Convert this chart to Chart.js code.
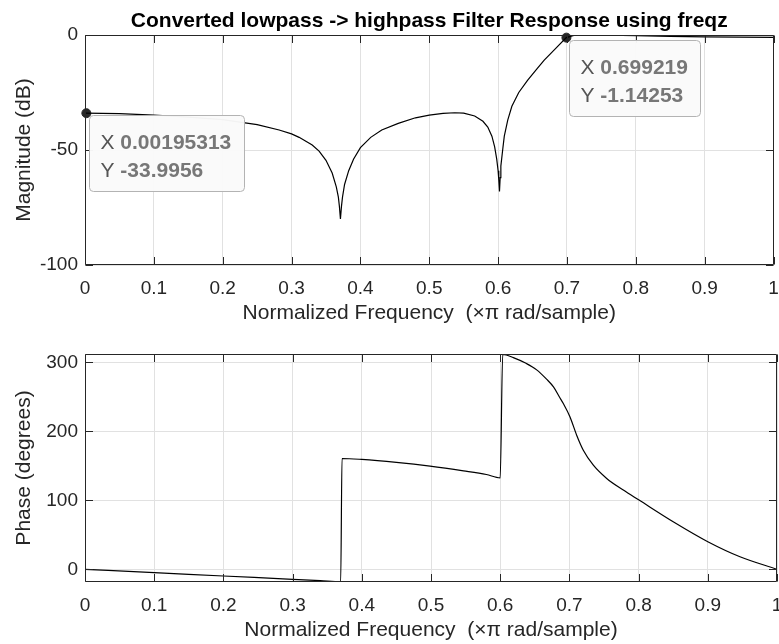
<!DOCTYPE html>
<html>
<head>
<meta charset="utf-8">
<script src="https://cdn.jsdelivr.net/npm/chart.js@4.4.0/dist/chart.umd.min.js"></script>
<style>
  html, body { margin: 0; padding: 0; background: #fff; }
  #wrap { position: relative; width: 779px; height: 644px; }
  canvas { position: absolute; left: 0; top: 0; }
</style>
</head>
<body>
<div id="wrap">
  <canvas id="magChart" width="779" height="644"></canvas>
  <canvas id="phaseChart" width="779" height="644"></canvas>
</div>
<script>
// values
const plotTitle = "Converted lowpass -> highpass Filter Response using freqz";
const xLabel = "Normalized Frequency  (\u00d7\u03c0 rad/sample)";

const freqTicks = [0, 0.1, 0.2, 0.3, 0.4, 0.5, 0.6, 0.7, 0.8, 0.9, 1];
const magTicks = [-100, -50, 0];
const phaseTicks = [0, 100, 200, 300];

const magFreq = [0, 0.05, 0.1, 0.15, 0.2, 0.25, 0.282, 0.3, 0.311, 0.33, 0.34, 0.35, 0.359, 0.365, 0.368,
  0.3695, 0.371, 0.3725, 0.374, 0.377, 0.383, 0.39, 0.4, 0.415, 0.431, 0.455, 0.48, 0.5, 0.52, 0.537, 0.55, 0.566,
  0.578, 0.585, 0.591, 0.595, 0.598, 0.6, 0.601, 0.602, 0.603, 0.604, 0.607, 0.609, 0.614, 0.62, 0.63, 0.643,
  0.657, 0.667, 0.683, 0.699, 0.71, 0.73, 0.76, 0.8, 0.85, 0.9, 0.95, 1];
const magDb = [-34.0, -34.2, -34.8, -35.7, -36.8, -39.0, -41.3, -43.0, -44.5, -47.8, -50.5, -54.5, -60, -66, -70.5,
  -74.5, -80, -74.5, -70.5, -65, -59, -54, -49, -44.5, -41.3, -38.4, -36.0, -34.8, -34.1, -33.8, -34.0, -35.2,
  -37.5, -40, -44, -48.6, -54, -59, -63, -68, -62, -57, -49, -44, -37, -31, -25, -19.6,
  -14.5, -10.9, -6.0, -1.14, -0.2, 0, -0.05, -0.3, -0.6, -0.8, -0.95, -1.0];

const phaseFreq = [0, 0.1, 0.2, 0.3, 0.34, 0.3695, 0.3714, 0.4, 0.45, 0.4986, 0.547, 0.58, 0.6, 0.6036,
  0.619, 0.638, 0.6527, 0.667, 0.677, 0.6854, 0.6912, 0.7009, 0.7105, 0.7201, 0.7346, 0.7539, 0.7779,
  0.8006, 0.85, 0.9, 0.9465, 1];
const phaseDeg = [0, -4.8, -9.7, -14.5, -16.5, -18.2, 160.6, 159.2, 154.9, 149.5, 142.7, 137.4, 132.6, 311.3,
  306.8, 298.1, 289, 275.5, 264.3, 250, 240.2, 220.8, 194.4, 172.6, 150.9, 131.7, 114.8,
  100.3, 68.9, 40, 18.2, 0];

const tipFreq = [0.00195313, 0.699219];
const tipMag = [-33.9956, -1.14253];

const FONT = '"Liberation Sans", Arial, Helvetica, sans-serif';
const INK = '#262626';

function pts(xs, ys) {
  return xs.map((v, i) => ({ x: v, y: ys[i] }));
}

// box round the axes plus inward tick marks, like MATLAB
const axesFrame = {
  id: 'axesFrame',
  afterDatasetsDraw(chart) {
    const { ctx, chartArea: a, scales: { x, y } } = chart;
    const L = Math.round(a.left) + 0.5, R = Math.round(a.right) - 0.5;
    const T = Math.round(a.top) + 0.5, B = Math.round(a.bottom) - 0.5;
    const len = 7.5;
    ctx.save();
    ctx.strokeStyle = INK;
    ctx.lineWidth = 1;
    ctx.beginPath();
    ctx.rect(L, T, R - L, B - T);
    x.ticks.forEach(t => {
      const px = Math.round(x.getPixelForValue(t.value)) + 0.5;
      ctx.moveTo(px, B); ctx.lineTo(px, B - len);
      ctx.moveTo(px, T); ctx.lineTo(px, T + len);
    });
    y.ticks.forEach(t => {
      const py = Math.round(y.getPixelForValue(t.value)) + 0.5;
      ctx.moveTo(L, py); ctx.lineTo(L + len, py);
      ctx.moveTo(R, py); ctx.lineTo(R - len, py);
    });
    ctx.stroke();
    ctx.restore();
  }
};

const dataTips = {
  id: 'dataTips',
  afterDraw(chart, args, opts) {
    if (!opts.xs) return;
    const { ctx, scales: { x, y } } = chart;
    const fmt = v => String(Number(v.toPrecision(6)));
    ctx.save();
    opts.xs.forEach((fx, i) => {
      const px = x.getPixelForValue(fx), py = y.getPixelForValue(opts.ys[i]);
      const rows = [['X ', fmt(fx)], ['Y ', fmt(opts.ys[i])]];
      let w = 0;
      rows.forEach(r => {
        ctx.font = '21px ' + FONT;
        const a = ctx.measureText(r[0]).width;
        ctx.font = 'bold 21px ' + FONT;
        w = Math.max(w, a + ctx.measureText(r[1]).width);
      });
      const bx = Math.round(px + 2.5) + 0.5, by = Math.round(py + 2) + 0.5;
      const bw = Math.round(w + 24), bh = 76;
      ctx.beginPath();
      ctx.roundRect(bx, by, bw, bh, 4);
      ctx.fillStyle = 'rgba(250,250,250,0.97)';
      ctx.fill();
      ctx.strokeStyle = '#b3b3b3';
      ctx.lineWidth = 1;
      ctx.stroke();
      rows.forEach((r, k) => {
        const ty = by + 33 + k * 28;
        ctx.font = '21px ' + FONT;
        ctx.fillStyle = '#555555';
        ctx.textBaseline = 'alphabetic';
        ctx.textAlign = 'left';
        ctx.fillText(r[0], bx + 11, ty);
        const a = ctx.measureText(r[0]).width;
        ctx.font = 'bold 21px ' + FONT;
        ctx.fillStyle = '#777777';
        ctx.fillText(r[1], bx + 11 + a, ty);
      });
    });
    ctx.restore();
  }
};

const topTitle = {
  id: 'topTitle',
  afterDraw(chart, args, opts) {
    if (!opts.text) return;
    const { ctx, chartArea: a } = chart;
    ctx.save();
    ctx.font = 'bold 21px ' + FONT;
    ctx.fillStyle = '#000';
    ctx.textAlign = 'center';
    ctx.textBaseline = 'alphabetic';
    ctx.fillText(opts.text, (a.left + a.right) / 2, 26.5);
    ctx.restore();
  }
};

function xScale(height, labelPad) {
  return {
    type: 'linear',
    min: 0,
    max: 1,
    afterBuildTicks: s => { s.ticks = freqTicks.map(v => ({ value: v })); },
    afterFit: s => { s.height = height; s.paddingLeft = 0; s.paddingRight = 0; },
    ticks: {
      font: { family: FONT, size: 19 },
      color: INK,
      padding: 12,
      maxRotation: 0,
      autoSkip: false,
      callback: v => String(v)
    },
    grid: { color: '#e1e1e1', drawTicks: false },
    border: { display: false },
    title: {
      display: true,
      text: xLabel,
      color: INK,
      font: { family: FONT, size: 21 },
      padding: { top: 0, bottom: labelPad }
    }
  };
}

function yScale(min, max, tickVals, label) {
  return {
    min: min,
    max: max,
    afterBuildTicks: s => { s.ticks = tickVals.map(v => ({ value: v })); },
    afterFit: s => { s.width = 85; s.paddingTop = 0; s.paddingBottom = 0; },
    ticks: {
      font: { family: FONT, size: 19 },
      color: INK,
      padding: 7,
      callback: v => String(v)
    },
    grid: { color: '#e1e1e1', drawTicks: false },
    border: { display: false },
    title: {
      display: true,
      text: label,
      color: INK,
      font: { family: FONT, size: 21 },
      padding: { top: 12, bottom: 0 }
    }
  };
}

const baseOpts = {
  responsive: false,
  animation: false,
  devicePixelRatio: 1,
  events: []
};

new Chart(document.getElementById('magChart'), {
  type: 'line',
  data: {
    datasets: [
      {
        data: pts(magFreq, magDb),
        borderColor: '#000',
        borderWidth: 1.2,
        pointRadius: 0,
        tension: 0
      },
      {
        data: pts(tipFreq, tipMag),
        showLine: false,
        pointRadius: 4.5,
        pointBackgroundColor: INK,
        pointBorderColor: INK,
        clip: false
      }
    ]
  },
  options: Object.assign({}, baseOpts, {
    layout: { padding: { top: 35, left: 0, right: 2, bottom: 314 } },
    plugins: {
      legend: { display: false },
      tooltip: { enabled: false },
      topTitle: { text: plotTitle },
      dataTips: { xs: tipFreq, ys: tipMag }
    },
    scales: {
      x: xScale(65, 4.4),
      y: yScale(-100, 0, magTicks, 'Magnitude (dB)')
    }
  }),
  plugins: [axesFrame, dataTips, topTitle]
});

new Chart(document.getElementById('phaseChart'), {
  type: 'line',
  data: {
    datasets: [
      {
        data: pts(phaseFreq, phaseDeg),
        borderColor: '#000',
        borderWidth: 1.2,
        pointRadius: 0,
        cubicInterpolationMode: 'monotone'
      }
    ]
  },
  options: Object.assign({}, baseOpts, {
    layout: { padding: { top: 354, left: 0, right: 2, bottom: 0 } },
    plugins: {
      legend: { display: false },
      tooltip: { enabled: false }
    },
    scales: {
      x: xScale(62, 1.4),
      y: yScale(-18.4, 312, phaseTicks, 'Phase (degrees)')
    }
  }),
  plugins: [axesFrame]
});
</script>
</body>
</html>
